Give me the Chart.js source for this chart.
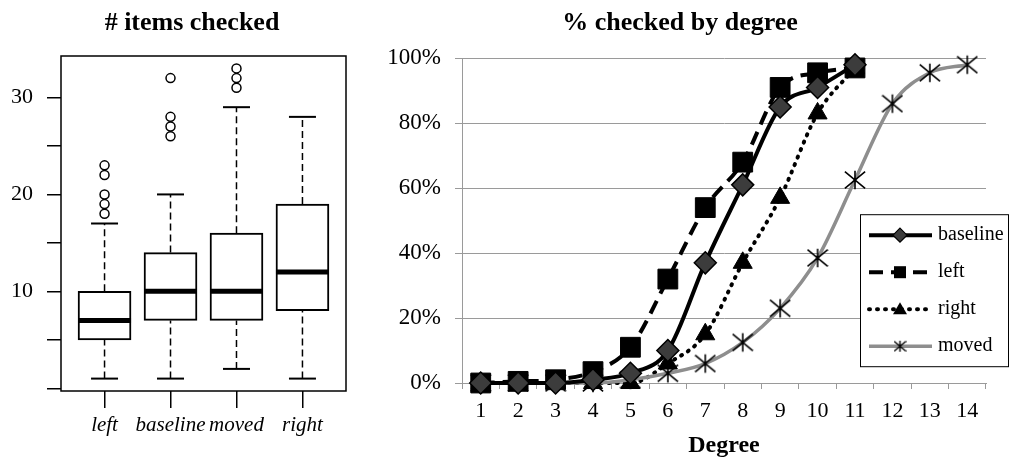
<!DOCTYPE html>
<html>
<head>
<meta charset="utf-8">
<script src="https://cdn.jsdelivr.net/npm/chart.js@4.4.1/dist/chart.umd.min.js"></script>
<style>
  body { margin: 0; background: #fff; }
  #boxChart { position: absolute; left: 0; top: 0; }
  #lineChart { position: absolute; left: 360px; top: 0; }
</style>
</head>
<body>
<canvas id="boxChart" width="360" height="462"></canvas>
<canvas id="lineChart" width="651" height="462"></canvas>
<script>
/* box plot data: # items checked */
const groups = ['left', 'baseline', 'moved', 'right'];
const whiskerLow = [1, 1, 2, 1];
const quartile1 = [5, 7, 7, 8];
const medians = [7, 10, 10, 12];
const quartile3 = [10, 14, 16, 19];
const whiskerHigh = [17, 20, 29, 28];
const outliers = [[18, 19, 20, 22, 23], [26, 27, 28, 32], [31, 32, 33], []];
const boxTicks = [0, 5, 10, 15, 20, 25, 30];
const boxTickLabels = ['', '', '10', '', '20', '', '30'];

/* line data: % checked by degree */
const degrees = ['1', '2', '3', '4', '5', '6', '7', '8', '9', '10', '11', '12', '13', '14'];
const pctBaseline = [0, 0, 0, 1, 3, 10, 37, 61, 85, 91, 98, null, null, null];
const pctLeft = [0, 0.5, 1, 3.5, 11, 32, 54, 68, 91, 95.5, 97, null, null, null];
const pctRight = [0, 0, 0, 0, 0, 6, 15, 37, 57, 83, 97, null, null, null];
const pctMoved = [0, 0, 0, 0, 1, 3, 6, 12.5, 23, 38.5, 62.5, 86, 95.5, 98];

const serif = 'Liberation Serif';
const gridGray = '#9a9a9a';

/* ---------- left: box plot (groups sit at x = 1..4 like R) ---------- */
const boxPts = [];
const medianPts = [];
const whiskerPts = [];
const capPts = [];
const outlierPts = [];
groups.forEach((g, i) => {
  const x = i + 1;
  boxPts.push({x: x, y: [quartile1[i], quartile3[i]]});
  medianPts.push({x: x, y: medians[i]});
  whiskerPts.push({x: x, y: quartile3[i]}, {x: x, y: whiskerHigh[i]}, {x: x, y: null});
  whiskerPts.push({x: x, y: whiskerLow[i]}, {x: x, y: quartile1[i]}, {x: x, y: null});
  capPts.push({x: x, y: whiskerLow[i]}, {x: x, y: whiskerHigh[i]});
  outliers[i].forEach(v => outlierPts.push({x: x, y: v}));
});

// R style frame round the plot region + title (title sits off-centre from the axes)
const framePlugin = {
  id: 'frame',
  afterDraw(chart) {
    const {ctx, chartArea: a} = chart;
    ctx.save();
    ctx.strokeStyle = '#000';
    ctx.lineWidth = 1.5;
    ctx.strokeRect(a.left, a.top, a.right - a.left, a.bottom - a.top);
    ctx.fillStyle = '#000';
    ctx.font = 'bold 26px ' + serif;
    ctx.textAlign = 'center';
    ctx.textBaseline = 'middle';
    ctx.fillText('# items checked', 192, 23);
    ctx.restore();
  }
};

new Chart(document.getElementById('boxChart'), {
  type: 'bar',
  data: {
    datasets: [
      {
        type: 'bar',
        data: boxPts,
        backgroundColor: '#fff',
        borderColor: '#000',
        borderWidth: 2,
        borderSkipped: false,
        barThickness: 53,
        order: 2
      },
      {
        type: 'line',
        data: whiskerPts,
        borderColor: '#000',
        borderWidth: 1.5,
        borderDash: [7, 4],
        pointRadius: 0,
        spanGaps: false,
        order: 3
      },
      {
        type: 'line',
        data: capPts,
        showLine: false,
        pointStyle: 'line',
        pointRadius: 13.5,
        pointBorderWidth: 2,
        pointBorderColor: '#000',
        order: 1
      },
      {
        type: 'line',
        data: medianPts,
        showLine: false,
        pointStyle: 'line',
        pointRadius: 26.5,
        pointBorderWidth: 5,
        pointBorderColor: '#000',
        order: 0
      },
      {
        type: 'line',
        data: outlierPts,
        showLine: false,
        pointStyle: 'circle',
        pointRadius: 4.5,
        pointBorderWidth: 1.5,
        pointBorderColor: '#000',
        pointBackgroundColor: '#fff',
        order: 0
      }
    ]
  },
  options: {
    responsive: false,
    animation: false,
    layout: { autoPadding: false, padding: { left: 0, right: 14, top: 56, bottom: 0 } },
    plugins: {
      legend: { display: false },
      tooltip: { enabled: false },
      title: { display: false }
    },
    scales: {
      x: {
        type: 'linear',
        min: 0.34,
        max: 4.66,
        offset: false,
        afterBuildTicks: s => { s.ticks = groups.map((g, i) => ({ value: i + 1 })); },
        grid: { drawOnChartArea: false, offset: false, tickLength: 17, color: '#000', lineWidth: 1.5 },
        border: { display: false },
        ticks: {
          color: '#000',
          padding: 5,
          maxRotation: 0,
          minRotation: 0,
          autoSkip: false,
          font: { family: serif, size: 21, style: 'italic' },
          callback: v => groups[v - 1]
        },
        afterFit: s => { s.height = 71; }
      },
      y: {
        min: -0.28,
        max: 34.28,
        afterBuildTicks: s => { s.ticks = boxTicks.map(v => ({ value: v })); },
        ticks: {
          color: '#000',
          padding: 14,
          autoSkip: false,
          font: { family: serif, size: 22 },
          callback: v => boxTickLabels[boxTicks.indexOf(v)]
        },
        grid: { drawOnChartArea: false, tickLength: 14, color: '#000', lineWidth: 1.5 },
        border: { display: false },
        afterFit: s => { s.width = 61; }
      }
    }
  },
  plugins: [framePlugin]
});

/* ---------- right: line chart ---------- */
function makeAsterisk(size, lw) {
  const c = document.createElement('canvas');
  c.width = size;
  c.height = size;
  const g = c.getContext('2d');
  const h = size / 2;
  g.strokeStyle = '#000';
  g.lineWidth = lw;
  g.beginPath();
  g.moveTo(h, h - size * 0.42); g.lineTo(h, h + size * 0.42);
  g.moveTo(h - size * 0.46, h - size * 0.38); g.lineTo(h + size * 0.46, h + size * 0.38);
  g.moveTo(h - size * 0.46, h + size * 0.38); g.lineTo(h + size * 0.46, h - size * 0.38);
  g.stroke();
  return c;
}
const asterisk = makeAsterisk(22, 1.6);
const asteriskSmall = makeAsterisk(13, 1.4);

function drawMarker(ctx, style, x, y, fill) {
  ctx.save();
  ctx.fillStyle = fill;
  ctx.strokeStyle = '#000';
  ctx.lineWidth = 1.2;
  ctx.beginPath();
  if (style === 'rectRot') {
    ctx.moveTo(x, y - 7); ctx.lineTo(x + 7, y); ctx.lineTo(x, y + 7); ctx.lineTo(x - 7, y);
    ctx.closePath(); ctx.fill(); ctx.stroke();
  } else if (style === 'rect') {
    ctx.rect(x - 6, y - 6, 12, 12); ctx.fill();
  } else if (style === 'triangle') {
    ctx.moveTo(x, y - 7); ctx.lineTo(x + 7, y + 5); ctx.lineTo(x - 7, y + 5);
    ctx.closePath(); ctx.fill();
  } else {
    ctx.drawImage(asteriskSmall, x - asteriskSmall.width / 2, y - asteriskSmall.height / 2);
  }
  ctx.restore();
}

const legendPlugin = {
  id: 'boxLegend',
  afterDraw(chart) {
    const {ctx, chartArea: a} = chart;
    const bx = a.right - 126, by = a.top + 156, bw = 148, bh = 152;
    ctx.save();
    ctx.fillStyle = '#fff';
    ctx.fillRect(bx, by, bw, bh);
    ctx.strokeStyle = '#000';
    ctx.lineWidth = 1;
    ctx.strokeRect(bx + 0.5, by + 0.5, bw, bh);
    chart.data.datasets.forEach((ds, i) => {
      const y = by + 21 + i * 37;
      ctx.save();
      ctx.strokeStyle = ds.borderColor;
      ctx.lineWidth = ds.borderWidth;
      ctx.lineCap = ds.borderCapStyle || 'butt';
      ctx.setLineDash(ds.borderDash || []);
      ctx.beginPath();
      ctx.moveTo(bx + 9, y);
      ctx.lineTo(bx + 72, y);
      ctx.stroke();
      ctx.restore();
      drawMarker(ctx, ds.pointStyle, bx + 40, y, ds.pointBackgroundColor);
      ctx.fillStyle = '#000';
      ctx.font = '20px ' + serif;
      ctx.textBaseline = 'middle';
      ctx.textAlign = 'left';
      ctx.fillText(ds.label, bx + 78, y);
    });
    ctx.restore();
  }
};

new Chart(document.getElementById('lineChart'), {
  type: 'line',
  data: {
    labels: degrees,
    datasets: [
      {
        label: 'baseline',
        data: pctBaseline,
        borderColor: '#000',
        borderWidth: 4,
        pointStyle: 'rectRot',
        pointRadius: 11,
        pointBackgroundColor: '#3c3c3c',
        pointBorderColor: '#000',
        pointBorderWidth: 1.5,
        cubicInterpolationMode: 'monotone',
        clip: false,
        order: 0
      },
      {
        label: 'left',
        data: pctLeft,
        borderColor: '#000',
        borderWidth: 4,
        borderDash: [14, 8],
        pointStyle: 'rect',
        pointRadius: 14,
        pointBackgroundColor: '#000',
        pointBorderColor: '#000',
        pointBorderWidth: 1,
        cubicInterpolationMode: 'monotone',
        clip: false,
        order: 3
      },
      {
        label: 'right',
        data: pctRight,
        borderColor: '#000',
        borderWidth: 4,
        borderDash: [1, 7],
        borderCapStyle: 'round',
        pointStyle: 'triangle',
        pointRadius: 11,
        pointBackgroundColor: '#000',
        pointBorderColor: '#000',
        pointBorderWidth: 1,
        cubicInterpolationMode: 'monotone',
        clip: false,
        order: 2
      },
      {
        label: 'moved',
        data: pctMoved,
        borderColor: '#8e8e8e',
        borderWidth: 3.5,
        pointStyle: asterisk,
        pointRadius: 11,
        pointBackgroundColor: '#000',
        cubicInterpolationMode: 'monotone',
        clip: false,
        order: 1
      }
    ]
  },
  options: {
    responsive: false,
    animation: false,
    layout: { autoPadding: false, padding: { left: 14, right: 25, top: 0, bottom: 0 } },
    plugins: {
      legend: { display: false },
      tooltip: { enabled: false },
      title: {
        display: true,
        text: '% checked by degree',
        color: '#000',
        font: { family: serif, size: 26, weight: 'bold' },
        padding: { top: 8, bottom: 19 }
      }
    },
    scales: {
      x: {
        offset: true,
        grid: { drawOnChartArea: false, offset: true, tickLength: 6, color: gridGray },
        border: { color: gridGray },
        ticks: { color: '#000', padding: 9, maxRotation: 0, font: { family: serif, size: 22 } },
        title: {
          display: true,
          text: 'Degree',
          color: '#000',
          font: { family: serif, size: 24, weight: 'bold' },
          padding: { top: 0, bottom: 2 }
        },
        afterFit: s => { s.height = 79; }
      },
      y: {
        min: 0,
        max: 100,
        ticks: {
          stepSize: 20,
          color: '#000',
          padding: 14,
          font: { family: serif, size: 23 },
          callback: v => v + '%'
        },
        grid: { tickLength: 7, color: gridGray },
        border: { color: gridGray },
        afterFit: s => { s.width = 88; }
      }
    }
  },
  plugins: [legendPlugin]
});
</script>
</body>
</html>
